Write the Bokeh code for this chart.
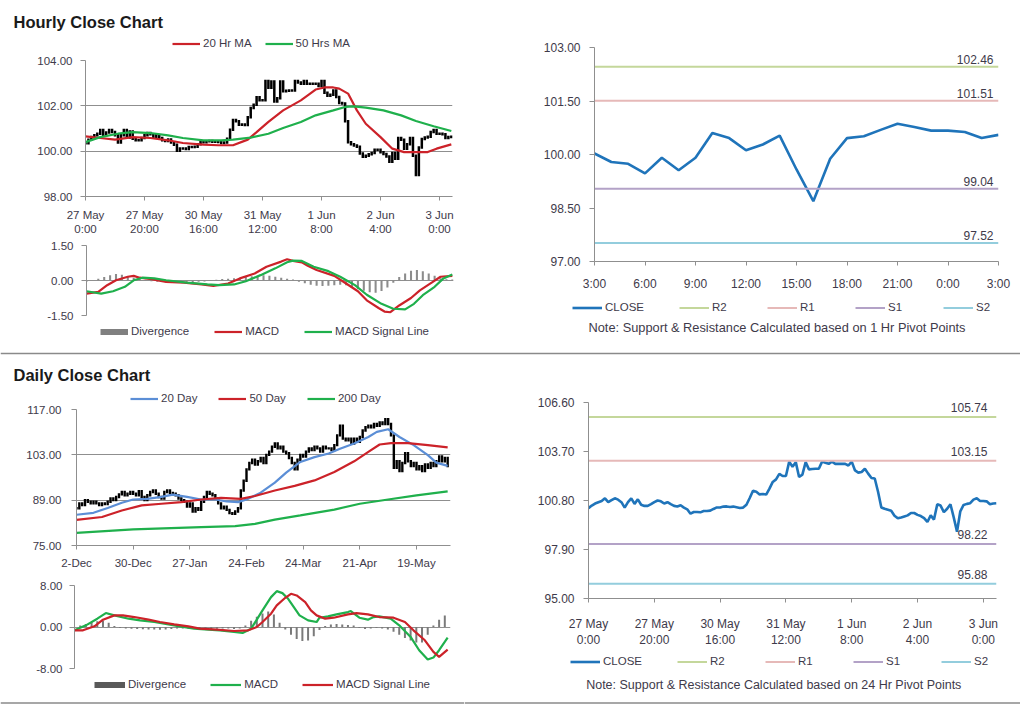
from bokeh.plotting import figure
from bokeh.layouts import column, row
from bokeh.models import (Range1d, FixedTicker, Legend, LegendItem, Label, Span,
                          NumeralTickFormatter, ColumnDataSource)
from bokeh.embed import file_html
from bokeh.resources import INLINE

FONT = "Liberation Sans"
TXT = "#3e3a4a"
GRID = "#8f8f8f"
AXIS = "#8f8f8f"
RED = "#cc2229"
GREEN = "#1fb04c"
BLUE20 = "#5b8ed6"
CLOSE_BLUE = "#1f74ba"
R2_C, R1_C, S1_C, S2_C = "#c4d79b", "#e6b9b8", "#b3a2c7", "#93cddd"
NAN = float("nan")

# ---------------- hourly data (27 May 0:00 -> 3 Jun) ----------------
hourly_close = [
    100.35, 100.50, 100.62, 100.70, 100.77, 100.93, 100.70, 100.82, 100.93, 100.85,
    100.70, 100.38, 100.70, 100.93, 100.60, 100.87, 100.55, 100.48, 100.48, 100.58,
    100.70, 100.80, 100.75, 100.62, 100.70, 100.58, 100.48, 100.45, 100.52, 100.38,
    100.28, 100.02, 100.12, 100.12, 100.10, 100.18, 100.18, 100.20, 100.30, 100.39,
    100.39, 100.44, 100.45, 100.42, 100.44, 100.40, 100.36, 100.38, 100.55, 100.95,
    101.38, 101.32, 101.16, 101.18, 101.15, 101.50, 101.90, 102.05, 102.38, 102.25,
    102.25, 103.10, 102.80, 103.07, 102.19, 102.33, 103.07, 102.64, 102.66, 102.68,
    102.68, 103.10, 103.03, 102.97, 103.10, 102.97, 102.97, 102.97, 102.97, 102.87,
    103.10, 102.58, 102.45, 102.49, 102.68, 102.39, 102.13, 102.10, 101.32, 100.39,
    100.31, 100.25, 100.19, 99.90, 99.75, 99.80, 99.86, 99.92, 100.06, 100.06,
    99.95, 99.88, 99.76, 99.53, 99.92, 99.67, 100.58, 100.50, 100.11, 100.31,
    100.58, 99.80, 98.95, 100.16, 100.54, 100.60, 100.64, 100.85, 100.93, 100.77,
    100.77, 100.75, 100.58, 100.62, 100.64]
hourly_tick_idx = [0, 20, 40, 60, 80, 100, 120]
hourly_tick_labels = ["27 May\n0:00", "27 May\n20:00", "30 May\n16:00", "31 May\n12:00",
                      "1 Jun\n8:00", "2 Jun\n4:00", "3 Jun\n0:00"]
hourly_yticks = [98, 100, 102, 104]
hourly_ylabels = ["98.00", "100.00", "102.00", "104.00"]

ma20_idx = [0, 5, 10, 16, 22, 28, 33, 40, 45, 50, 55, 58, 62, 67, 73, 78, 81, 84, 86, 89,
            92, 95, 100, 104, 108, 112, 116, 119, 124]
ma20_val = [100.65, 100.58, 100.51, 100.62, 100.58, 100.48, 100.36, 100.29, 100.26, 100.26,
            100.51, 100.84, 101.29, 101.80, 102.24, 102.72, 102.81, 102.81, 102.76, 102.54,
            101.80, 101.21, 100.62, 100.11, 99.96, 99.96, 99.96, 100.11, 100.30]
ma50_idx = [0, 5, 11, 16, 22, 28, 33, 40, 46, 50, 56, 62, 67, 73, 78, 84, 88, 91, 95, 101,
            107, 112, 118, 124]
ma50_val = [100.40, 100.62, 100.77, 100.84, 100.80, 100.70, 100.58, 100.48, 100.48, 100.51,
            100.60, 100.77, 101.02, 101.29, 101.58, 101.80, 101.95, 101.98, 101.92, 101.80,
            101.58, 101.33, 101.10, 100.89]

macd_h_idx = [0, 4, 7, 10, 14, 16, 18, 22, 27, 33, 39, 43, 48, 52, 57, 61, 66, 68, 70, 73,
              75, 78, 84, 88, 92, 95, 99, 101, 103, 106, 110, 113, 117, 120, 124]
macd_h_val = [-0.56, -0.49, -0.20, 0.01, 0.16, 0.20, 0.12, 0.06, -0.06, -0.09,
              -0.17, -0.23, -0.13, 0.09, 0.30, 0.59, 0.81, 0.91, 0.84, 0.78,
              0.63, 0.45, 0.20, -0.13, -0.46, -0.85, -1.18, -1.33, -1.36, -1.07,
              -0.75, -0.42, -0.09, 0.16, 0.20]
sig_h_idx = [0, 5, 9, 13, 16, 19, 23, 27, 34, 41, 45, 50, 54, 59, 64, 68, 70, 73, 77, 82,
             86, 91, 95, 100, 104, 108, 111, 114, 118, 121, 124]
sig_h_val = [-0.46, -0.56, -0.46, -0.27, 0.01, 0.12, 0.09, 0.01, -0.09, -0.17,
             -0.20, -0.17, -0.03, 0.23, 0.52, 0.78, 0.85, 0.84, 0.59, 0.40,
             0.16, -0.20, -0.61, -1.00, -1.21, -1.24, -1.00, -0.63, -0.27, 0.09, 0.26]
div_h_idx = list(range(0, 125, 2))
div_h_val = [-0.05, 0.00, 0.08, 0.15, 0.22, 0.28, 0.25, 0.18, 0.12, 0.06,
             0.03, -0.03, -0.05, -0.04, -0.06, -0.05, -0.04, -0.05, -0.06, -0.05,
             -0.04, -0.02, 0.03, 0.06, 0.08, 0.10, 0.12, 0.15, 0.18, 0.20,
             0.22, 0.20, 0.16, 0.12, 0.08, 0.04, -0.05, -0.12, -0.18, -0.22,
             -0.24, -0.22, -0.20, -0.18, -0.20, -0.28, -0.36, -0.44, -0.50, -0.52,
             -0.45, -0.30, -0.10, 0.15, 0.30, 0.42, 0.45, 0.40, 0.30, 0.20,
             0.10, 0.05, 0.04]
macd_h_yticks = [-1.5, 0.0, 1.5]
macd_h_ylabels = ["-1.50", "0.00", "1.50"]

# ---------------- 1 Hr pivot chart ----------------
pivot1_hours = list(range(25))
pivot1_close = [100.03, 99.79, 99.74, 99.47, 99.91, 99.56, 99.91, 100.60, 100.46, 100.12,
                100.28, 100.53, 99.58, 98.69, 99.88, 100.46, 100.51, 100.69, 100.86, 100.77,
                100.67, 100.67, 100.63, 100.46, 100.55]
pivot1_tick_idx = [0, 3, 6, 9, 12, 15, 18, 21, 24]
pivot1_tick_labels = ["3:00", "6:00", "9:00", "12:00", "15:00", "18:00", "21:00", "0:00", "3:00"]
pivot1_yticks = [97.0, 98.5, 100.0, 101.5, 103.0]
pivot1_ylabels = ["97.00", "98.50", "100.00", "101.50", "103.00"]
pivot_names = ["R2", "R1", "S1", "S2"]
pivot1_levels = [102.46, 101.51, 99.04, 97.52]
pivot1_note = "Note: Support & Resistance Calculated based on 1 Hr Pivot Points"

# ---------------- daily data ----------------
daily_close = [
    86.5, 88.0, 87.5, 89.0, 88.5, 88.0, 88.5, 88.0, 87.5, 88.0,
    87.8, 88.5, 89.5, 89.0, 90.0, 90.8, 91.5, 90.5, 91.0, 91.5,
    91.0, 90.5, 91.8, 90.0, 89.0, 90.5, 91.5, 92.0, 91.0, 90.0,
    89.5, 91.5, 92.0, 91.2, 91.0, 90.5, 89.5, 89.0, 88.5, 87.0,
    88.0, 85.5, 86.5, 86.0, 88.5, 90.0, 91.5, 91.0, 90.5, 89.5,
    88.0, 86.5, 87.0, 86.0, 85.0, 84.8, 85.5, 86.5, 92.0, 95.0,
    98.5, 100.5, 101.5, 100.0, 101.0, 102.0, 100.5, 103.0, 104.0, 105.5,
    106.5, 105.0, 105.5, 104.0, 103.5, 102.0, 100.5, 98.5, 101.5, 103.0,
    102.5, 104.0, 105.0, 104.5, 105.5, 105.0, 104.0, 105.5, 105.0, 105.0,
    104.5, 106.0, 109.0, 112.0, 108.0, 107.5, 108.0, 106.5, 108.0, 107.0,
    108.5, 110.5, 111.5, 112.0, 111.5, 112.5, 112.0, 113.0, 112.5, 114.0,
    112.5, 109.0, 99.0, 101.0, 98.0, 100.5, 103.5, 101.0, 99.5, 100.5,
    98.5, 99.5, 98.0, 100.0, 99.0, 100.5, 99.5, 101.0, 102.5, 101.0,
    102.0, 99.5]
daily_tick_idx = [0, 20, 40, 60, 80, 100, 120]
daily_tick_labels = ["2-Dec", "30-Dec", "27-Jan", "24-Feb", "24-Mar", "21-Apr", "19-May"]
daily_yticks = [75, 89, 103, 117]
daily_ylabels = ["75.00", "89.00", "103.00", "117.00"]

d20_idx = [0, 6, 11, 16, 20, 25, 30, 34, 39, 44, 49, 53, 57, 60, 65, 70, 74, 79, 84, 89,
           93, 98, 103, 106, 110, 114, 119, 124, 127, 131]
d20_val = [84.5, 85.1, 86.6, 88.2, 89.2, 89.4, 90.0, 90.7, 90.0, 89.2,
           89.2, 88.6, 88.4, 89.2, 91.3, 94.4, 97.5, 100.8, 102.3, 103.4,
           104.9, 106.5, 108.5, 110.1, 110.9, 108.5, 106.0, 102.9, 100.6, 99.6]
d50_idx = [0, 9, 16, 23, 30, 37, 44, 51, 58, 63, 70, 77, 84, 91, 98, 103, 107, 111, 117, 124, 131]
d50_val = [82.9, 83.8, 85.8, 87.4, 87.9, 88.4, 89.2, 89.7, 89.4, 90.3, 92.0, 93.4, 95.1, 97.7,
           101.0, 103.9, 106.2, 106.6, 106.6, 106.0, 105.3]
d200_idx = [0, 20, 44, 56, 63, 70, 79, 91, 100, 110, 120, 131]
d200_val = [78.9, 79.95, 80.7, 81.0, 81.7, 83.0, 84.3, 86.1, 87.9, 89.2, 90.5, 91.7]

macd_d_idx = [0, 4, 8, 11, 14, 19, 23, 28, 33, 37, 42, 47, 51, 56, 59, 62, 64, 66, 69, 71,
              73, 75, 77, 79, 82, 85, 86, 89, 92, 96, 97, 100, 103, 105, 107, 111, 114, 118,
              121, 124, 126, 128, 131]
macd_d_val = [-0.64, 0.32, 1.60, 2.69, 2.24, 1.60, 1.28, 0.96, 0.51, 0.13,
              -0.32, -0.51, -0.64, -0.96, -1.15, -0.32, 1.41, 3.20, 5.76, 6.91,
              6.53, 5.44, 3.84, 2.24, 1.28, 0.96, 1.79, 2.05, 2.43, 2.88,
              3.07, 1.79, 1.41, 1.92, 2.05, 1.60, 0.32, -1.92, -4.48, -6.27,
              -5.89, -4.48, -2.05]
sig_d_idx = [0, 3, 7, 10, 14, 17, 21, 26, 30, 35, 40, 44, 50, 56, 61, 64, 66, 69, 71, 74,
             76, 78, 81, 83, 85, 88, 91, 96, 99, 103, 107, 112, 116, 119, 123, 126, 128, 131]
sig_d_val = [-0.64, -0.64, 0.13, 1.41, 2.24, 2.24, 1.92, 1.41, 0.96, 0.51,
             0.13, -0.32, -0.51, -0.77, -0.64, 0.0, 0.96, 2.56, 4.16, 5.63,
             6.40, 6.08, 4.80, 3.20, 2.24, 1.60, 1.79, 2.43, 2.69, 2.43,
             1.92, 1.79, 0.96, -0.64, -2.56, -4.80, -5.76, -4.35]
div_d_idx = list(range(0, 131, 2))
div_d_val = [0.0, 0.3, 0.6, 0.9, 1.1, 1.2, 0.8, 0.2, -0.2, -0.3,
             -0.35, -0.4, -0.45, -0.5, -0.5, -0.55, -0.5, -0.4, -0.3, -0.3,
             -0.35, -0.4, -0.4, -0.35, -0.4, -0.35, -0.3, -0.3, -0.4, -0.3,
             0.3, 1.2, 2.0, 2.6, 3.0, 2.4, 0.8, -0.5, -1.5, -2.3,
             -2.7, -2.6, -1.8, -0.6, 0.2, 0.5, 0.6, 0.5, 0.4, 0.3,
             -0.2, -0.4, -0.3, -0.2, -0.3, -0.5, -0.9, -1.5, -2.1, -2.6,
             -3.0, -3.0, -1.5, 0.3, 1.4, 2.2]
macd_d_yticks = [-8.0, 0.0, 8.0]
macd_d_ylabels = ["-8.00", "0.00", "8.00"]

# ---------------- 24 Hr pivot chart ----------------
pivot2_yticks = [95.0, 97.9, 100.8, 103.7, 106.6]
pivot2_ylabels = ["95.00", "97.90", "100.80", "103.70", "106.60"]
pivot2_levels = [105.74, 103.15, 98.22, 95.88]
pivot2_note = "Note:  Support & Resistance Calculated based on 24 Hr Pivot Points"


# ---------------- helpers ----------------
def no_align(p):
    try:
        p.frame_align = False
    except Exception:
        pass


def base_fig(w, h, left, right, top, bottom, xr, yr):
    p = figure(width=w, height=h, x_range=xr, y_range=yr, output_backend="svg",
               toolbar_location=None, min_border_left=left, min_border_right=right,
               min_border_top=top, min_border_bottom=bottom)
    p.outline_line_color = None
    p.xgrid.visible = False
    no_align(p)
    return p


def blank_fig(w, h):
    p = figure(width=w, height=h, x_range=Range1d(0, w), y_range=Range1d(0, h),
               x_axis_type=None, y_axis_type=None, output_backend="svg",
               toolbar_location=None, min_border=0)
    p.outline_line_color = None
    no_align(p)
    return p


def style_y(p, ticks, labels, size, standoff, grid):
    ax = p.yaxis[0]
    ax.ticker = FixedTicker(ticks=ticks)
    ax.formatter = NumeralTickFormatter(format="0.00")
    ax.major_label_overrides = dict(zip(ticks, labels))
    ax.axis_line_color = AXIS
    ax.major_tick_line_color = AXIS
    ax.major_tick_out = 5
    ax.major_tick_in = 0
    ax.minor_tick_line_color = None
    ax.major_label_text_font = FONT
    ax.major_label_text_font_size = size
    ax.major_label_text_color = TXT
    ax.major_label_standoff = standoff
    if grid:
        p.ygrid.ticker = FixedTicker(ticks=ticks)
        p.ygrid.grid_line_color = GRID
    else:
        p.ygrid.visible = False


def style_x(p, ticks, labels, size, standoff):
    ax = p.xaxis[0]
    ax.ticker = FixedTicker(ticks=ticks)
    ax.major_label_overrides = dict(zip(ticks, labels))
    ax.axis_line_color = AXIS
    ax.major_tick_line_color = AXIS
    ax.major_tick_out = 4
    ax.major_tick_in = 0
    ax.minor_tick_line_color = None
    ax.major_label_text_font = FONT
    ax.major_label_text_font_size = size
    ax.major_label_text_color = TXT
    ax.major_label_standoff = standoff


def legend_fig(w, h, entries, vx, vy, glyph_w, spacing, size="11.5px"):
    # legend swatches: renderers with no drawable (NaN) points, only used by the legend
    p = blank_fig(w, h)
    items = []
    for label, color, lw in entries:
        r = p.line(x=[NAN, NAN], y=[NAN, NAN], line_color=color, line_width=lw)
        items.append(LegendItem(label=label, renderers=[r]))
    leg = Legend(items=items, location=(vx, vy), orientation="horizontal",
                 glyph_width=glyph_w, glyph_height=13, label_height=13,
                 label_standoff=3, spacing=spacing, padding=0, margin=0,
                 border_line_color=None, background_fill_alpha=0,
                 label_text_font=FONT, label_text_font_size=size,
                 label_text_color=TXT)
    p.add_layout(leg, "center")
    return p


def bar_source(closes):
    opens = [closes[0]] + closes[:-1]
    return ColumnDataSource(dict(x=list(range(len(closes))), o=opens, c=closes))


def title_label(text, x, y):
    return Label(x=x, y=y, text=text, text_font=FONT, text_font_style="bold",
                 text_font_size="16.5px", text_color="#1a1a1a", text_baseline="alphabetic")


def bottom_rule(p):
    p.add_layout(Span(location=1.5, dimension="width", line_color="#8a8a8a", line_width=1.5))


TOTAL_W = 1020
LEFT_W = 464
RIGHT_W = TOTAL_W - LEFT_W

# ---------------- section 1 ----------------
head1 = blank_fig(TOTAL_W, 36)
head1.add_layout(title_label("Hourly Close Chart", 13, 14.5))

legH = legend_fig(LEFT_W, 20, [("20 Hr MA", RED, 2.2), ("50 Hrs MA", GREEN, 2.2)],
                  172, 6.5, 28, 13)

n_h = len(hourly_close)
hourly = base_fig(LEFT_W, 182, 85, 12, 4, 42, Range1d(0, 124.4), Range1d(98, 104))
hourly.segment(x0="x", y0="o", x1="x", y1="c", source=bar_source(hourly_close),
               line_color="black", line_width=2.5, line_cap="square")
hourly.line(ma20_idx, ma20_val, line_color=RED, line_width=2.2)
hourly.line(ma50_idx, ma50_val, line_color=GREEN, line_width=2.2)
style_y(hourly, hourly_yticks, hourly_ylabels, "11.5px", 8, True)
style_x(hourly, hourly_tick_idx, hourly_tick_labels, "11.5px", 8)

macd1 = base_fig(LEFT_W, 86, 86, 11, 7, 9, Range1d(0, 124.4), Range1d(-1.5, 1.5))
macd1.vbar(x=div_h_idx, top=div_h_val, bottom=0, width=0.7, fill_color="#8c8c8c",
           line_color=None)
macd1.line(macd_h_idx, macd_h_val, line_color=RED, line_width=2.2)
macd1.line(sig_h_idx, sig_h_val, line_color=GREEN, line_width=2.2)
macd1.xaxis.visible = False
style_y(macd1, macd_h_yticks, macd_h_ylabels, "11.5px", 8, True)

legM1 = legend_fig(LEFT_W, 21, [("Divergence", "#808080", 6), ("MACD", RED, 2.2),
                                ("MACD Signal Line", GREEN, 2.2)], 100, 7.5, 28, 25)

chartA = base_fig(RIGHT_W, 257, 130, 22, 11, 30, Range1d(0, 24), Range1d(97, 103))
chartA.line(pivot1_hours, pivot1_close, line_color=CLOSE_BLUE, line_width=2.6)
pivot_cols = [R2_C, R1_C, S1_C, S2_C]
for lvl, col in zip(pivot1_levels, pivot_cols):
    chartA.line([pivot1_hours[0], pivot1_hours[-1]], [lvl, lvl], line_color=col, line_width=2)
    chartA.add_layout(Label(x=pivot1_hours[-1], y=lvl, text=f"{lvl:.2f}", text_align="right",
                            text_baseline="bottom", x_offset=-5, y_offset=3, text_font=FONT,
                            text_font_size="12px", text_color=TXT))
style_y(chartA, pivot1_yticks, pivot1_ylabels, "12px", 9, False)
style_x(chartA, pivot1_tick_idx, pivot1_tick_labels, "12px", 11)

legA_entries = [("CLOSE", CLOSE_BLUE, 2.6)] + [(n, c, 2) for n, c in zip(pivot_names, pivot_cols)]
legA = legend_fig(RIGHT_W, 52, legA_entries, 108, 31.5, 30, 35)
legA.add_layout(Label(x=312.5, y=18, text=pivot1_note, text_align="center",
                      text_baseline="middle", text_font=FONT, text_font_size="12.8px",
                      text_color=TXT))

# ---------------- section 2 header ----------------
sec2 = blank_fig(TOTAL_W, 39)
sec2.add_layout(Span(location=31, dimension="width", line_color="#8a8a8a", line_width=1.5))
sec2.add_layout(title_label("Daily Close Chart", 13, 9.5))

# ---------------- section 2 ----------------
legD = legend_fig(LEFT_W, 21, [("20 Day", BLUE20, 2.2), ("50 Day", RED, 2.2),
                               ("200 Day", GREEN, 2.2)], 130, 0.5, 28, 21)

daily = base_fig(LEFT_W, 167, 76, 14, 4, 27, Range1d(0, 132), Range1d(75, 117))
daily.segment(x0="x", y0="o", x1="x", y1="c", source=bar_source(daily_close),
              line_color="black", line_width=2.4, line_cap="square")
daily.line(d20_idx, d20_val, line_color=BLUE20, line_width=2.2)
daily.line(d50_idx, d50_val, line_color=RED, line_width=2.2)
daily.line(d200_idx, d200_val, line_color=GREEN, line_width=2.2)
style_y(daily, daily_yticks, daily_ylabels, "11.5px", 10, True)
style_x(daily, daily_tick_idx, daily_tick_labels, "11.5px", 7)

macd2 = base_fig(LEFT_W, 105, 74, 14, 13, 9, Range1d(0, 132), Range1d(-8, 8))
macd2.vbar(x=div_d_idx, top=div_d_val, bottom=0, width=0.7, fill_color="#7a7a7a",
           line_color=None)
macd2.line(macd_d_idx, macd_d_val, line_color=GREEN, line_width=2.2)
macd2.line(sig_d_idx, sig_d_val, line_color=RED, line_width=2.2)
macd2.xaxis.visible = False
style_y(macd2, macd_d_yticks, macd_d_ylabels, "11.5px", 7, True)

legM2 = legend_fig(LEFT_W, 27, [("Divergence", "#595959", 6), ("MACD", GREEN, 2.2),
                                ("MACD Signal Line", RED, 2.2)], 94, 13.5, 31, 24)
bottom_rule(legM2)

chartB = base_fig(RIGHT_W, 266, 124, 24, 18, 48, Range1d(0, n_h - 1), Range1d(95, 106.6))
hx = list(range(n_h))
chartB.line(hx, hourly_close, line_color=CLOSE_BLUE, line_width=2.6)
for lvl, col in zip(pivot2_levels, pivot_cols):
    chartB.line([hx[0], hx[-1]], [lvl, lvl], line_color=col, line_width=2)
    chartB.add_layout(Label(x=hx[-1], y=lvl, text=f"{lvl:.2f}", text_align="right",
                            text_baseline="bottom", x_offset=-9, y_offset=5, text_font=FONT,
                            text_font_size="12px", text_color=TXT))
style_y(chartB, pivot2_yticks, pivot2_ylabels, "12px", 9, False)
style_x(chartB, hourly_tick_idx, hourly_tick_labels, "12px", 14)

legB = legend_fig(RIGHT_W, 54, legA_entries, 106, 36.5, 30, 35)
legB.add_layout(Label(x=311, y=20, text=pivot2_note, text_align="center",
                      text_baseline="middle", text_font=FONT, text_font_size="12.5px",
                      text_color=TXT))
bottom_rule(legB)

page = column(
    head1,
    row(column(legH, hourly, macd1, legM1, spacing=0),
        column(chartA, legA, spacing=0), spacing=0),
    sec2,
    row(column(legD, daily, macd2, legM2, spacing=0),
        column(chartB, legB, spacing=0), spacing=0),
    spacing=0)

open("out.html", "w").write(file_html(page, INLINE))
